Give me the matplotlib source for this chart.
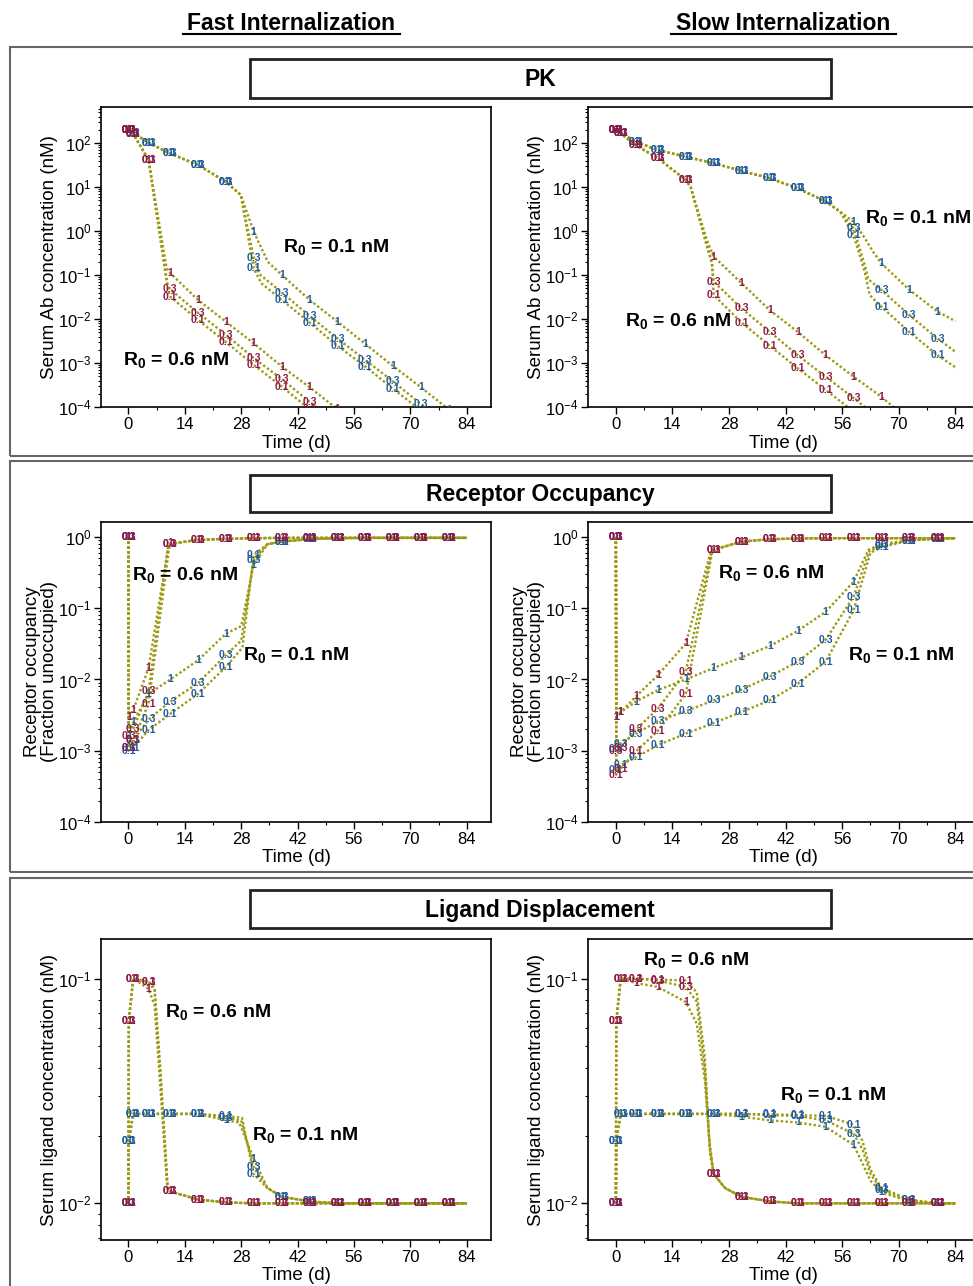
import numpy as np
import matplotlib
matplotlib.use("Agg")
import matplotlib.pyplot as plt
from matplotlib.patches import Rectangle
from matplotlib.lines import Line2D
from matplotlib.ticker import LogLocator, MultipleLocator, NullFormatter

plt.rcParams['font.family'] = ['Liberation Sans', 'DejaVu Sans']
plt.rcParams['mathtext.default'] = 'regular'

# ---------------------------------------------------------------- data
DAY_TICKS = [0, 14, 28, 42, 56, 70, 84]
# simulation times at which the dose labels are printed on the curves
MARK_T = [0, 0.1, 1.2, 5, 10.4, 17.3, 24.2, 31.1, 38.1, 45.0, 51.9, 58.8, 65.7, 72.6, 79.6]
PARAMS = ['0.1', '0.3', '1']

# --- PK, fast internalization (nM)
PKF_B_START = [(0, 200), (0.1, 195), (1.2, 170), (5, 101), (10.4, 58), (17.3, 31.6), (24.2, 13.2), (27.9, 6.6)]
PKF_B_1 = [(31.1, 0.97), (34.6, 0.20), (38.1, 0.10), (45.0, 0.027), (51.9, 0.0087), (58.8, 0.0027),
           (65.7, 8.5e-4), (72.6, 2.8e-4), (79.6, 8.7e-5), (84, 4.2e-5)]
PKF_B_03 = [(31.1, 0.25), (32.5, 0.105), (38.1, 0.040), (45.0, 0.0117), (51.9, 0.0036), (58.8, 0.00117),
            (65.7, 3.8e-4), (72.6, 1.17e-4), (79.6, 3.6e-5)]
PKF_B_01 = [(31.1, 0.141), (33.0, 0.065), (38.1, 0.027), (45.0, 0.0083), (51.9, 0.00245), (58.8, 8.3e-4),
            (65.7, 2.6e-4), (72.6, 8.3e-5), (79.6, 2.5e-5)]
PKF_R_START = [(0, 200), (0.1, 195), (1.2, 160), (5, 42)]
PKF_R_1 = [(9.5, 0.141), (10.4, 0.110), (17.3, 0.027), (24.2, 0.0087), (31.1, 0.0028), (38.1, 8.3e-4),
           (45.0, 2.8e-4), (51.9, 8.9e-5), (58.8, 2.8e-5)]
PKF_R_03 = [(9.7, 0.063), (10.4, 0.047), (17.3, 0.0138), (24.2, 0.0044), (31.1, 0.0013), (38.1, 4.3e-4),
            (45.0, 1.3e-4), (51.9, 4e-5)]
PKF_R_01 = [(9.8, 0.045), (10.4, 0.032), (17.3, 0.0095), (24.2, 0.0030), (31.1, 9.1e-4), (38.1, 2.9e-4),
            (45.0, 8.9e-5), (51.9, 2.8e-5)]

# --- PK, slow internalization (nM)
PKS_B_START = [(0, 200), (0.1, 195), (1.2, 170), (5, 107), (10.4, 69), (17.3, 49), (24.2, 34.7),
               (31.1, 23.4), (38.1, 15.8), (45.0, 9.3), (51.9, 4.7), (55.5, 2.75)]
PKS_B_1 = [(58.8, 1.62), (61.5, 0.71), (63.5, 0.355), (65.7, 0.184), (72.6, 0.046), (79.6, 0.0148), (84, 0.0089)]
PKS_B_03 = [(58.8, 1.15), (61.5, 0.178), (62.5, 0.079), (65.7, 0.0457), (72.6, 0.0123), (79.6, 0.0036), (84, 0.0018)]
PKS_B_01 = [(58.8, 0.81), (61.5, 0.126), (62.8, 0.035), (65.7, 0.019), (72.6, 0.0051), (79.6, 0.0015), (84, 0.0008)]
PKS_R_START = [(0, 200), (0.1, 195), (1.2, 165), (5, 89), (10.4, 45), (17.3, 14.5), (18.5, 10)]
PKS_R_1 = [(22.5, 0.63), (23.6, 0.355), (24.2, 0.263), (31.1, 0.065), (38.1, 0.0158), (45.0, 0.0051),
           (51.9, 0.0015), (58.8, 4.9e-4), (65.7, 1.7e-4), (72.6, 5e-5)]
PKS_R_03 = [(22.5, 0.5), (23.7, 0.2), (24.2, 0.071), (31.1, 0.0174), (38.1, 0.0051), (45.0, 0.0015),
            (51.9, 4.9e-4), (58.8, 1.6e-4), (65.7, 5e-5)]
PKS_R_01 = [(22.5, 0.45), (23.8, 0.178), (24.2, 0.035), (31.1, 0.0083), (38.1, 0.00245), (45.0, 7.6e-4),
            (51.9, 2.45e-4), (58.8, 7.9e-5), (65.7, 2.5e-5)]

# --- Receptor occupancy, fast internalization (fraction unoccupied)
ROF_R_1 = [(0, 1), (0.1, 0.003), (1.2, 0.0037), (5, 0.0145), (10, 0.78), (10.4, 0.81)]
ROF_R_03 = [(0, 1), (0.1, 0.0016), (1.2, 0.002), (5, 0.0068), (9.8, 0.71), (10.4, 0.80)]
ROF_R_01 = [(0, 1), (0.1, 0.0011), (1.2, 0.0014), (5, 0.0046), (10, 0.63), (10.4, 0.79)]
ROF_R_END = [(17.3, 0.91), (24.2, 0.94), (31.1, 0.96), (38.1, 0.97), (45.0, 0.97), (51.9, 0.97),
             (58.8, 0.97), (65.7, 0.97), (72.6, 0.97), (79.6, 0.97), (84, 0.97)]
ROF_B_1 = [(0, 1), (0.1, 0.0016), (1.2, 0.0025), (5, 0.0063), (10.4, 0.010), (17.3, 0.0186), (24.2, 0.044),
           (28, 0.056), (31.1, 0.41), (34.5, 0.79)]
ROF_B_03 = [(0, 1), (0.1, 0.0011), (1.2, 0.0014), (5, 0.00275), (10.4, 0.0049), (17.3, 0.0089), (24.2, 0.022),
            (28, 0.035), (31.1, 0.48), (34.5, 0.79)]
ROF_B_01 = [(0, 1), (0.1, 0.001), (1.2, 0.0011), (5, 0.00195), (10.4, 0.0033), (17.3, 0.0063), (24.2, 0.015),
            (28.3, 0.028), (31.1, 0.56), (34.5, 0.79)]
ROF_B_END = [(38.1, 0.86), (45.0, 0.93), (51.9, 0.96), (58.8, 0.97), (65.7, 0.97), (72.6, 0.97), (79.6, 0.97), (84, 0.97)]

# --- Receptor occupancy, slow internalization
ROS_R_1 = [(0, 1), (0.1, 0.003), (1.2, 0.0035), (5, 0.0058), (10.4, 0.0115), (17.3, 0.032), (23.5, 0.63), (24.2, 0.66)]
ROS_R_03 = [(0, 1), (0.1, 9.8e-4), (1.2, 0.0011), (5, 0.002), (10.4, 0.0039), (17.3, 0.0129), (23.7, 0.63), (24.2, 0.66)]
ROS_R_01 = [(0, 1), (0.1, 4.6e-4), (1.2, 5.6e-4), (5, 9.8e-4), (10.4, 0.0019), (17.3, 0.0063), (23.8, 0.6), (24.2, 0.66)]
ROS_R_END = [(31.1, 0.86), (38.1, 0.93), (45.0, 0.95), (51.9, 0.96), (58.8, 0.96), (65.7, 0.96),
             (72.6, 0.96), (79.6, 0.96), (84, 0.96)]
ROS_B_1 = [(0, 1), (0.1, 0.003), (1.2, 0.0035), (5, 0.0049), (10.4, 0.0071), (17.3, 0.010), (24.2, 0.0145),
           (31.1, 0.0204), (38.1, 0.0295), (45.0, 0.048), (51.9, 0.089), (58.8, 0.234), (62.5, 0.66), (65.7, 0.8)]
ROS_B_03 = [(0, 1), (0.1, 0.00107), (1.2, 0.00126), (5, 0.00174), (10.4, 0.0026), (17.3, 0.0036), (24.2, 0.0051),
            (31.1, 0.0072), (38.1, 0.011), (45.0, 0.0178), (51.9, 0.036), (58.8, 0.145), (62.7, 0.63), (65.7, 0.76)]
ROS_B_01 = [(0, 1), (0.1, 5.4e-4), (1.2, 6.3e-4), (5, 8.1e-4), (10.4, 0.0012), (17.3, 0.00174), (24.2, 0.00245),
            (31.1, 0.0035), (38.1, 0.0051), (45.0, 0.0087), (51.9, 0.0178), (58.8, 0.093), (63, 0.6), (65.7, 0.72)]
ROS_B_END = [(72.6, 0.89), (79.6, 0.95), (84, 0.96)]

# --- Ligand displacement, fast internalization (nM)
LDF_R_START = [(0, 0.01), (0.1, 0.065), (1.2, 0.1)]
LDF_R_1 = [(5, 0.09), (6.5, 0.076), (8, 0.0316), (9.6, 0.012), (10.4, 0.0113)]
LDF_R_03 = [(5, 0.0966), (6.5, 0.089), (8, 0.0355), (9.7, 0.0117), (10.4, 0.0113)]
LDF_R_01 = [(5, 0.0966), (6.5, 0.091), (8, 0.038), (9.8, 0.0115), (10.4, 0.0113)]
LDF_R_END = [(17.3, 0.0104), (24.2, 0.0101), (31.1, 0.01), (38.1, 0.01), (45.0, 0.01), (51.9, 0.01),
             (58.8, 0.01), (65.7, 0.01), (72.6, 0.01), (79.6, 0.01), (84, 0.01)]
LDF_B_START = [(0, 0.01), (0.1, 0.019), (1.2, 0.025), (5, 0.025), (10.4, 0.025), (17.3, 0.025)]
LDF_B_1 = [(24.2, 0.0234), (27.5, 0.0229), (31.1, 0.0158)]
LDF_B_03 = [(24.2, 0.024), (28, 0.0234), (31.1, 0.0145)]
LDF_B_01 = [(24.2, 0.0245), (28.2, 0.024), (31.1, 0.0135)]
LDF_B_END = [(34.5, 0.0117), (38.1, 0.0107), (45.0, 0.0102), (51.9, 0.01), (58.8, 0.01), (65.7, 0.01),
             (72.6, 0.01), (79.6, 0.01), (84, 0.01)]

# --- Ligand displacement, slow internalization (nM)
LDS_R_START = [(0, 0.01), (0.1, 0.065), (1.2, 0.1)]
LDS_R_1 = [(5, 0.0955), (10.4, 0.0918), (17.3, 0.0787), (20, 0.063), (22, 0.0355), (23, 0.02), (24.2, 0.0135)]
LDS_R_03 = [(5, 0.1), (10.4, 0.098), (17.3, 0.0918), (20, 0.079), (22, 0.04), (23.2, 0.0178), (24.2, 0.0135)]
LDS_R_01 = [(5, 0.1), (10.4, 0.099), (17.3, 0.098), (20, 0.087), (22, 0.0447), (23.3, 0.0166), (24.2, 0.0135)]
LDS_R_END = [(27, 0.0117), (31.1, 0.0107), (38.1, 0.0102), (45.0, 0.01), (51.9, 0.01), (58.8, 0.01),
             (65.7, 0.01), (72.6, 0.01), (79.6, 0.01), (84, 0.01)]
LDS_B_START = [(0, 0.01), (0.1, 0.019), (1.2, 0.025), (5, 0.025), (10.4, 0.025), (17.3, 0.025), (24.2, 0.025)]
LDS_B_1 = [(31.1, 0.0243), (38.1, 0.0234), (45.0, 0.0229), (51.9, 0.0219), (58.8, 0.0182), (61, 0.0151),
           (63, 0.0126), (65.7, 0.0112), (72.6, 0.0102)]
LDS_B_03 = [(31.1, 0.025), (38.1, 0.0247), (45.0, 0.0245), (51.9, 0.0234), (58.8, 0.0204), (61, 0.0174),
            (63, 0.0135), (65.7, 0.0115), (72.6, 0.0103)]
LDS_B_01 = [(31.1, 0.025), (38.1, 0.0249), (45.0, 0.0247), (51.9, 0.0245), (58.8, 0.0224), (61, 0.019),
            (63, 0.0141), (65.7, 0.0117), (72.6, 0.0104)]
LDS_B_END = [(79.6, 0.01), (84, 0.01)]

# ---------------------------------------------------------------- style
LINE_C = '#9c9a12'
RED_C = '#8e1a4a'
BLUE_C = '#1f5b9e'
FRAME_C = '#666666'
W, H = 973, 1286

fig = plt.figure(figsize=(W / 100, H / 100), dpi=100)


def fx(x):
    return x / W


def fy(y):
    return 1 - y / H


def add_axes(x0, y0, x1, y1):
    return fig.add_axes([fx(x0), fy(y1), (x1 - x0) / W, (y1 - y0) / H])


def draw_group(ax, curves):
    for lab in PARAMS:
        t, v = zip(*curves[lab])
        ax.plot(t, v, color=LINE_C, lw=1.7, ls=(0, (1, 1)), zorder=2)


def draw_labels(ax, curves, color):
    for lab in PARAMS:
        for t, v in curves[lab]:
            if t in MARK_T:
                ax.text(t, v, lab, color=color, fontsize=7.5, fontweight='bold', ha='center', va='center',
                        clip_on=True, zorder=3)


def setup(ax, ylim, ylabel, xlim=(-6.8, 90)):
    ax.set_yscale('log')
    ax.set_xlim(*xlim)
    ax.set_ylim(*ylim)
    ax.set_xticks(DAY_TICKS)
    ax.xaxis.set_minor_locator(MultipleLocator(7))
    ax.yaxis.set_major_locator(LogLocator(base=10, numticks=20))
    ax.yaxis.set_minor_locator(LogLocator(base=10, subs=np.arange(2, 10), numticks=100))
    ax.yaxis.set_minor_formatter(NullFormatter())
    ax.tick_params(which='major', length=5, width=1, labelsize=12, pad=2)
    ax.tick_params(which='minor', length=2.5, width=0.8)
    for s in ax.spines.values():
        s.set_linewidth(1.2)
    ax.set_xlabel('Time (d)', fontsize=13.5, labelpad=2)
    ax.set_ylabel(ylabel, fontsize=13.5, labelpad=0, linespacing=1.0)


def curves_of(b01, b03, b1):
    return {'0.1': b01, '0.3': b03, '1': b1}


def panel(ax, red, blue):
    draw_group(ax, blue)
    draw_group(ax, red)
    draw_labels(ax, blue, BLUE_C)
    draw_labels(ax, red, RED_C)


def r0_label(x, y, val):
    fig.text(fx(x), fy(y), r'R$_0$ = ' + val + ' nM', fontsize=14, fontweight='bold',
             ha='left', va='center')


# ---------------------------------------------------------------- frames and headers
for y0, y1 in [(47, 456), (461, 872), (878, 1295)]:
    fig.add_artist(Rectangle((fx(10), fy(y1)), (990 - 10) / W, (y1 - y0) / H, transform=fig.transFigure,
                             fill=False, edgecolor=FRAME_C, lw=1.5, clip_on=False))
for (y0, y1), title in zip([(59, 98), (475, 512), (890, 928)], ['PK', 'Receptor Occupancy', 'Ligand Displacement']):
    fig.add_artist(Rectangle((fx(250), fy(y1)), (831 - 250) / W, (y1 - y0) / H, transform=fig.transFigure,
                             fill=False, edgecolor='#222222', lw=2))
    fig.text(fx(540), fy((y0 + y1) / 2 + 1), title, fontsize=16.5, fontweight='bold', ha='center', va='center')

for xc, txt, x0, x1 in [(291, 'Fast Internalization', 183, 400), (783, 'Slow Internalization', 671, 896)]:
    fig.text(fx(xc), fy(23), txt, fontsize=16.5, fontweight='bold', ha='center', va='center')
    fig.add_artist(Line2D([fx(x0), fx(x1)], [fy(34), fy(34)], color='black', lw=1.5))

LEFT_X = (101, 491)
RIGHT_X = (588, 978)

# ---------------------------------------------------------------- PK
ax = add_axes(LEFT_X[0], 107, LEFT_X[1], 407)
setup(ax, (1e-4, 660), 'Serum Ab concentration (nM)')
panel(ax, curves_of(PKF_R_START + PKF_R_01, PKF_R_START + PKF_R_03, PKF_R_START + PKF_R_1),
      curves_of(PKF_B_START + PKF_B_01, PKF_B_START + PKF_B_03, PKF_B_START + PKF_B_1))
r0_label(283, 247, '0.1')
r0_label(123, 360, '0.6')

ax = add_axes(RIGHT_X[0], 107, RIGHT_X[1], 407)
setup(ax, (1e-4, 660), 'Serum Ab concentration (nM)', xlim=(-6.9, 89.6))
panel(ax, curves_of(PKS_R_START + PKS_R_01, PKS_R_START + PKS_R_03, PKS_R_START + PKS_R_1),
      curves_of(PKS_B_START + PKS_B_01, PKS_B_START + PKS_B_03, PKS_B_START + PKS_B_1))
r0_label(865, 218, '0.1')
r0_label(625, 321, '0.6')

# ---------------------------------------------------------------- receptor occupancy
ax = add_axes(LEFT_X[0], 522, LEFT_X[1], 822)
setup(ax, (1e-4, 1.62), 'Receptor occupancy\n(Fraction unoccupied)')
panel(ax, curves_of(ROF_R_01 + ROF_R_END, ROF_R_03 + ROF_R_END, ROF_R_1 + ROF_R_END),
      curves_of(ROF_B_01 + ROF_B_END, ROF_B_03 + ROF_B_END, ROF_B_1 + ROF_B_END))
r0_label(132, 575, '0.6')
r0_label(243, 655, '0.1')

ax = add_axes(RIGHT_X[0], 522, RIGHT_X[1], 822)
setup(ax, (1e-4, 1.62), 'Receptor occupancy\n(Fraction unoccupied)', xlim=(-6.9, 89.6))
panel(ax, curves_of(ROS_R_01 + ROS_R_END, ROS_R_03 + ROS_R_END, ROS_R_1 + ROS_R_END),
      curves_of(ROS_B_01 + ROS_B_END, ROS_B_03 + ROS_B_END, ROS_B_1 + ROS_B_END))
r0_label(718, 573, '0.6')
r0_label(848, 655, '0.1')

# ---------------------------------------------------------------- ligand displacement
ax = add_axes(LEFT_X[0], 939, LEFT_X[1], 1240)
setup(ax, (0.00687, 0.15), 'Serum ligand concentration (nM)')
panel(ax, curves_of(LDF_R_START + LDF_R_01 + LDF_R_END, LDF_R_START + LDF_R_03 + LDF_R_END,
                    LDF_R_START + LDF_R_1 + LDF_R_END),
      curves_of(LDF_B_START + LDF_B_01 + LDF_B_END, LDF_B_START + LDF_B_03 + LDF_B_END,
                LDF_B_START + LDF_B_1 + LDF_B_END))
r0_label(165, 1012, '0.6')
r0_label(252, 1135, '0.1')

ax = add_axes(RIGHT_X[0], 939, RIGHT_X[1], 1240)
setup(ax, (0.00687, 0.15), 'Serum ligand concentration (nM)', xlim=(-6.9, 89.6))
panel(ax, curves_of(LDS_R_START + LDS_R_01 + LDS_R_END, LDS_R_START + LDS_R_03 + LDS_R_END,
                    LDS_R_START + LDS_R_1 + LDS_R_END),
      curves_of(LDS_B_START + LDS_B_01 + LDS_B_END, LDS_B_START + LDS_B_03 + LDS_B_END,
                LDS_B_START + LDS_B_1 + LDS_B_END))
r0_label(643, 960, '0.6')
r0_label(780, 1095, '0.1')

fig.savefig('out.png', dpi=100)
